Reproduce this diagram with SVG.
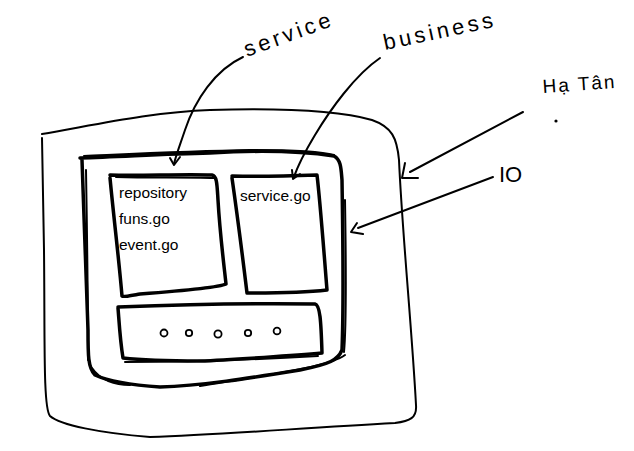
<svg xmlns="http://www.w3.org/2000/svg" width="634" height="451" viewBox="0 0 634 451">
  <style>
    .thin { fill: none; stroke: #000; stroke-width: 2; stroke-linecap: round; stroke-linejoin: round; }
    .thick { fill: none; stroke: #000; stroke-width: 3.5; stroke-linecap: round; stroke-linejoin: round; }
    .echo { fill: none; stroke: #000; stroke-width: 2; stroke-linecap: round; stroke-linejoin: round; }
    .dot { fill: none; stroke: #000; stroke-width: 1.8; }
    .hand { font-family: "Liberation Sans", "DejaVu Sans", sans-serif; fill: #000; }
    .note { font-size: 22px; letter-spacing: 3.5px; }
    .file { font-size: 15.5px; }
  </style>
  <rect width="634" height="451" fill="#fff"/>

  <!-- outer frame -->
  <g id="outer">
    <path class="thin" d="M42,134 C90,126 150,112 210,110 C280,108 340,111 372,120 C392,127 397,138 399,160 C402,230 412,330 416,405 C417,418 410,421 395,423 C300,428 220,435 150,437 C100,433 60,425 50,416 C43,408 45,340 44,250 C43,190 42,150 42,138"/>
  </g>

  <!-- middle container -->
  <g id="middle">
    <path class="thick" d="M80,158 C120,157 160,154 210,153 C260,150 300,151 334,156 C341,160 341,168 342,180 C343,240 344,300 342,350 C338,360 330,364 300,370 C250,378 200,386 160,387 C130,385 110,382 95,375 C88,368 88,355 88,330 C86,270 84,210 82,160"/>
    <path class="echo" d="M84,156 C130,154 190,151 250,150 C290,150 320,151 334,155 M345,200 C346,260 347,320 344,352 M345,355 C330,366 280,373 200,386 M130,385 C115,385 100,380 92,368 M86,170 C87,230 88,300 88,360"/>
  </g>

  <!-- repository files box -->
  <g id="repository">
    <path class="thick" d="M110,175 C140,176 180,174 212,175 C217,176 217,184 218,200 C220,235 224,265 226,284 C218,288 180,291 140,294 C128,296 123,297 122,296 C119,260 114,220 110,178"/>
    <path class="echo" d="M116,177 C150,178 185,177 214,178"/>
    <text class="hand file" x="119" y="198">repository</text>
    <text class="hand file" x="119" y="224">funs.go</text>
    <text class="hand file" x="119" y="250">event.go</text>
  </g>

  <!-- service file box -->
  <g id="service">
    <path class="thick" d="M232,176 C260,177 290,176 317,175 C320,200 323,240 327,290 C300,293 270,293 247,293 C243,260 238,220 232,178"/>
    <text class="hand file" x="240" y="201">service.go</text>
  </g>

  <!-- bottom strip -->
  <g id="strip">
    <path class="thick" d="M118,307 C170,305 250,303 315,304 C320,305 321,320 322,353 C300,355 230,360 200,361 C170,361 140,360 123,358 C120,340 119,320 118,308"/>
    <path class="echo" d="M125,362 C170,362 230,361 318,356"/>
    <circle class="dot" cx="164" cy="333" r="3.5"/>
    <circle class="dot" cx="189" cy="333" r="3.2"/>
    <circle class="dot" cx="218" cy="334" r="3.6"/>
    <circle class="dot" cx="248" cy="333" r="3.2"/>
    <circle class="dot" cx="277" cy="331" r="3.4"/>
  </g>

  <!-- labels -->
  <g id="labels">
    <text class="hand note" x="247" y="57" transform="rotate(-20 247 57)">service</text>
    <text class="hand note" x="385" y="50" transform="rotate(-12 385 50)">business</text>
    <text class="hand" font-size="19" letter-spacing="2" x="543" y="93" transform="rotate(-4 543 93)">Hạ Tân</text>
    <circle cx="556" cy="121" r="1.6" fill="#000"/>
    <text class="hand" font-size="22" x="499" y="182">IO</text>
  </g>

  <!-- pointers -->
  <g id="connectors">
    <path class="thin" d="M243,57 C215,70 195,100 185,130 C180,145 176,155 174,164"/>
    <path class="thin" d="M170,158 L174,165 L180,157"/>
    <path class="thin" d="M380,58 C355,75 330,110 315,135 C303,155 297,168 294,177"/>
    <path class="thin" d="M292,170 L293,179 L300,174"/>
    <path class="thin" d="M523,112 L410,172"/>
    <path class="thin" d="M405,163 L402,178 L418,178"/>
    <path class="thin" d="M493,177 L358,228"/>
    <path class="thin" d="M357,223 L351,232 L363,234"/>
  </g>
</svg>
